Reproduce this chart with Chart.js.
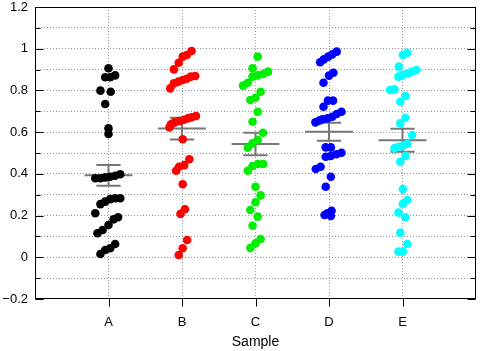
<!DOCTYPE html>
<html>
<head>
<meta charset="utf-8">
<script src="https://cdn.jsdelivr.net/npm/chart.js@4/dist/chart.umd.min.js"></script>
<style>
  html, body { margin: 0; padding: 0; background: #fff; }
  #wrap { width: 495px; height: 351px; }
</style>
</head>
<body>
<div id="wrap"><canvas id="chart"></canvas></div>
<script>
// Dot plot with mean +/- SEM per sample

const categories = ['A', 'B', 'C', 'D', 'E'];
const colors = ['#000000', '#ff0000', '#00ee00', '#0000ff', '#00ffff'];

// measured values per sample
const valuesA = [0.906, 0.863, 0.863, 0.872, 0.799, 0.794, 0.735, 0.618, 0.591,
  0.379, 0.379, 0.383, 0.386, 0.391, 0.398, 0.255, 0.267, 0.279, 0.283, 0.283,
  0.211, 0.182, 0.192, 0.155, 0.115, 0.131, 0.064, 0.043, 0.035, 0.016];
const valuesB = [0.989, 0.970, 0.962, 0.933, 0.901, 0.869, 0.866, 0.856, 0.850, 0.842,
  0.834, 0.810, 0.677, 0.671, 0.666, 0.658, 0.653, 0.647, 0.638, 0.623, 0.566,
  0.470, 0.442, 0.434, 0.415, 0.350, 0.230, 0.208, 0.083, 0.043, 0.011];
const valuesC = [0.962, 0.906, 0.890, 0.879, 0.872, 0.866, 0.837, 0.823, 0.794, 0.765,
  0.754, 0.698, 0.650, 0.597, 0.562, 0.546, 0.525, 0.447, 0.447, 0.438, 0.415,
  0.338, 0.297, 0.264, 0.227, 0.195, 0.151, 0.088, 0.067, 0.045];
const valuesD = [0.986, 0.973, 0.962, 0.949, 0.935, 0.885, 0.871, 0.837, 0.751, 0.751,
  0.722, 0.698, 0.687, 0.674, 0.666, 0.662, 0.655, 0.647, 0.527, 0.527, 0.501,
  0.494, 0.486, 0.482, 0.434, 0.423, 0.386, 0.338, 0.223, 0.211, 0.203, 0.198];
const valuesE = [0.981, 0.970, 0.914, 0.898, 0.890, 0.882, 0.874, 0.866, 0.805, 0.802,
  0.773, 0.746, 0.669, 0.642, 0.586, 0.543, 0.534, 0.530, 0.523, 0.486, 0.458,
  0.327, 0.275, 0.256, 0.214, 0.192, 0.118, 0.064, 0.027, 0.027];

// horizontal jitter (category units) for each value above
const jitterA = [0, -0.045, 0.023, 0.09, -0.11, 0.03, -0.045, 0, 0,
  -0.18, -0.11, -0.045, 0.023, 0.09, 0.16, -0.11, -0.045, 0.023, 0.09, 0.16,
  -0.18, 0.07, 0.13, 0, -0.15, -0.08, 0.09, 0.023, -0.045, -0.11];
const jitterB = [0.13, 0.065, 0.01, -0.045, -0.11, 0.18, 0.12, 0.065, 0.01, -0.05,
  -0.11, -0.16, 0.19, 0.13, 0.08, 0.02, -0.04, -0.1, -0.15, -0.17, 0.01,
  0.1, 0.03, -0.04, -0.08, 0.01, 0.04, -0.02, 0.07, 0.01, -0.045];
const jitterC = [0.03, -0.04, 0.17, 0.105, 0.03, -0.04, -0.105, -0.17, 0.07, 0,
  -0.07, 0.03, -0.04, 0.1, 0.03, -0.04, -0.105, 0.105, 0.035, -0.04, -0.105,
  0, 0.07, 0, -0.07, 0.03, -0.04, 0.07, 0, -0.07];
const jitterD = [0.105, 0.045, -0.01, -0.07, -0.12, 0.06, 0, -0.075, 0.055, -0.015,
  -0.075, 0.17, 0.105, 0.045, -0.02, -0.09, -0.135, -0.185, 0.025, -0.045, 0.17,
  0.1, 0.025, -0.045, -0.115, -0.18, 0.025, -0.045, 0.035, -0.02, -0.06, 0.025];
const jitterE = [0.065, 0.005, -0.05, 0.19, 0.13, 0.075, 0.005, -0.055, -0.11, -0.17,
  0.04, -0.03, 0.04, -0.03, 0.13, 0.065, 0.005, -0.055, -0.11, 0.04, -0.03,
  0.005, 0.065, 0.005, -0.055, 0.04, -0.03, 0.065, 0.005, -0.055];

// mean and standard error per sample
const means = [0.393, 0.617, 0.543, 0.602, 0.561];
const sems = [0.050, 0.052, 0.054, 0.043, 0.055];

const yTicks = [-0.2, 0, 0.2, 0.4, 0.6, 0.8, 1, 1.2];

const allValues = [valuesA, valuesB, valuesC, valuesD, valuesE];
const allJitter = [jitterA, jitterB, jitterC, jitterD, jitterE];

const MEAN_HALF = 0.325;
const CAP_HALF = 0.165;

function errorBarPoints() {
  const pts = [];
  means.forEach((m, i) => {
    const cx = i + 1, s = sems[i];
    pts.push({ x: cx - MEAN_HALF, y: m }, { x: cx + MEAN_HALF, y: m }, { x: cx, y: null });
    pts.push({ x: cx, y: m - s }, { x: cx, y: m + s }, { x: cx, y: null });
    pts.push({ x: cx - CAP_HALF, y: m + s }, { x: cx + CAP_HALF, y: m + s }, { x: cx, y: null });
    pts.push({ x: cx - CAP_HALF, y: m - s }, { x: cx + CAP_HALF, y: m - s }, { x: cx, y: null });
  });
  return pts;
}

const datasets = [{
  data: errorBarPoints(),
  showLine: true,
  spanGaps: false,
  borderColor: '#777777',
  borderWidth: 2,
  pointRadius: 0,
  order: 1
}];
allValues.forEach((vals, i) => {
  datasets.push({
    label: categories[i],
    data: vals.map((v, j) => ({ x: i + 1 + allJitter[i][j], y: v })),
    backgroundColor: colors[i],
    borderWidth: 0,
    pointRadius: 4.3,
    order: 0
  });
});

const frame = {
  id: 'frame',
  afterDraw(chart) {
    const { ctx, chartArea: a, scales: { x, y } } = chart;
    ctx.save();
    ctx.strokeStyle = '#000';
    ctx.lineWidth = 1;
    const l = Math.round(a.left) + 0.5, r = Math.round(a.right) - 0.5;
    const t = Math.round(a.top) + 0.5, b = Math.round(a.bottom) - 0.5;
    ctx.strokeRect(l, t, r - l, b - t);
    ctx.beginPath();
    for (let i = -2; i <= 12; i++) {
      const py = Math.round(y.getPixelForValue(i / 10)) + 0.5;
      const len = i % 2 === 0 ? 8 : 5;
      ctx.moveTo(l, py); ctx.lineTo(l + len, py);
      ctx.moveTo(r, py); ctx.lineTo(r - len, py);
    }
    categories.forEach((c, i) => {
      const px = Math.round(x.getPixelForValue(i + 1)) + 0.5;
      ctx.moveTo(px, b); ctx.lineTo(px, b + 8);
    });
    ctx.stroke();
    ctx.restore();
  }
};

const font = { family: '"Liberation Sans", Arial, sans-serif', size: 13 };

new Chart(document.getElementById('chart'), {
  type: 'scatter',
  data: { datasets },
  options: {
    responsive: true,
    maintainAspectRatio: false,
    animation: false,
    layout: { padding: { left: 0, right: 19, top: 7, bottom: 0 } },
    plugins: { legend: { display: false }, tooltip: { enabled: false } },
    scales: {
      x: {
        type: 'linear', min: 0, max: 6,
        afterFit: s => { s.height = 52; },
        ticks: {
          stepSize: 1, color: '#000', font, padding: 16, maxRotation: 0,
          callback: v => categories[v - 1] || ''
        },
        grid: {
          drawTicks: false,
          color: c => (c.tick && c.tick.value >= 1 && c.tick.value <= 5) ? '#999' : 'rgba(0,0,0,0)'
        },
        border: { display: false, dash: [1, 2] },
        title: { display: true, text: 'Sample', color: '#000', font: { family: font.family, size: 14 }, padding: { top: 0, bottom: 0 } }
      },
      y: {
        min: -0.2, max: 1.2,
        afterFit: s => { s.width = 35; s.paddingTop = 0; },
        afterBuildTicks: s => {
          const t = [];
          for (let i = -2; i <= 12; i++) t.push({ value: i / 10 });
          s.ticks = t;
        },
        ticks: {
          color: '#000', font, padding: 7,
          callback: v => {
            const r = Math.round(v * 10) / 10;
            const hit = yTicks.find(t => Math.abs(t - r) < 1e-6);
            if (hit === undefined) return '';
            return hit < 0 ? '\u2212' + String(-hit) : String(hit);
          }
        },
        grid: {
          drawTicks: false,
          color: c => (c.tick && c.tick.value > -0.15 && c.tick.value < 1.15) ? '#999' : 'rgba(0,0,0,0)'
        },
        border: { display: false, dash: [1, 2] }
      }
    }
  },
  plugins: [frame]
});
</script>
</body>
</html>
